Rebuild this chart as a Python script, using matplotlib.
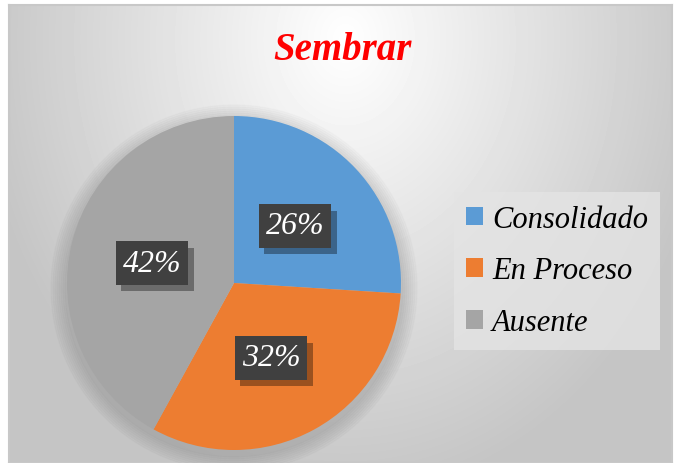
import numpy as np
import matplotlib.pyplot as plt
import matplotlib.patheffects as pe

categorias = ['Consolidado', 'En Proceso', 'Ausente']
valores = [26, 32, 42]
colores = ['#5b9bd5', '#ed7d31', '#a5a5a5']
etiquetas = ['26%', '32%', '42%']

fig = plt.figure(figsize=(6.81, 4.64), dpi=100)

# fondo con degradado radial
W, H = 681, 464
x0, y0, x1, y1 = 9, 6, 672, 464
bg = fig.add_axes([x0 / W, 0, (x1 - x0) / W, (y1 - y0) / H])
xx, yy = np.meshgrid(np.arange(x0, x1), np.arange(y0, y1))
d = np.sqrt(((xx - 345) / 420.0) ** 2 + ((yy - 40) / 520.0) ** 2)
g = np.clip(1.0 - 0.26 * d, 0.77, 1.0)
bg.imshow(g, cmap='gray', vmin=0, vmax=1, aspect='auto', extent=[x0, x1, y1, y0])
bg.set_xticks([])
bg.set_yticks([])
for s in bg.spines.values():
    s.set_color('#c8c8c8')
    s.set_linewidth(1.5)

# pastel
r = 167
cx, cy = 234, 284
ax = fig.add_axes([(cx - r) / W, (H - cy - r) / H, 2 * r / W, 2 * r / H])
ax.set_facecolor('none')
for k in range(8):
    ax.add_patch(plt.Circle((0, -0.03), 1.0 + 0.012 * (k + 1), color='black',
                            alpha=0.015, zorder=0, clip_on=False))
wedges, _ = ax.pie(valores, colors=colores, startangle=90, counterclock=False,
                   radius=1, wedgeprops=dict(linewidth=0))
ax.set_xlim(-1, 1)
ax.set_ylim(-1, 1)
ax.set_aspect('equal')

# etiquetas de porcentaje
pos = [(295, 227), (271, 359), (152, 264)]
for (px, py), t in zip(pos, etiquetas):
    txt = fig.text(px / W, 1 - py / H, t, ha='center', va='center', fontsize=23,
                   family='Liberation Serif', style='italic', color='white',
                   bbox=dict(boxstyle='square,pad=0.22', fc='#404040', ec='none'))
    txt.get_bbox_patch().set_path_effects([
        pe.SimplePatchShadow(offset=(4, -5), shadow_rgbFace='black', alpha=0.35),
        pe.Normal()])

# titulo
fig.text(342 / W, 1 - 50 / H, 'Sembrar', ha='center', va='center', fontsize=28,
         family='Liberation Serif', style='italic', weight='bold', color='red')

# leyenda
leg = fig.legend(wedges, categorias, loc='center', bbox_to_anchor=(557 / W, 1 - 272 / H),
                 prop=dict(family='Liberation Serif', style='italic', size=22),
                 frameon=True, fancybox=False, handlelength=0.55, handleheight=0.55,
                 handletextpad=0.3, labelspacing=0.75, borderpad=0.4)
leg.get_frame().set_facecolor('#e4e4e4')
leg.get_frame().set_edgecolor('none')
leg.get_frame().set_alpha(0.8)

fig.savefig('out.png', dpi=100)
